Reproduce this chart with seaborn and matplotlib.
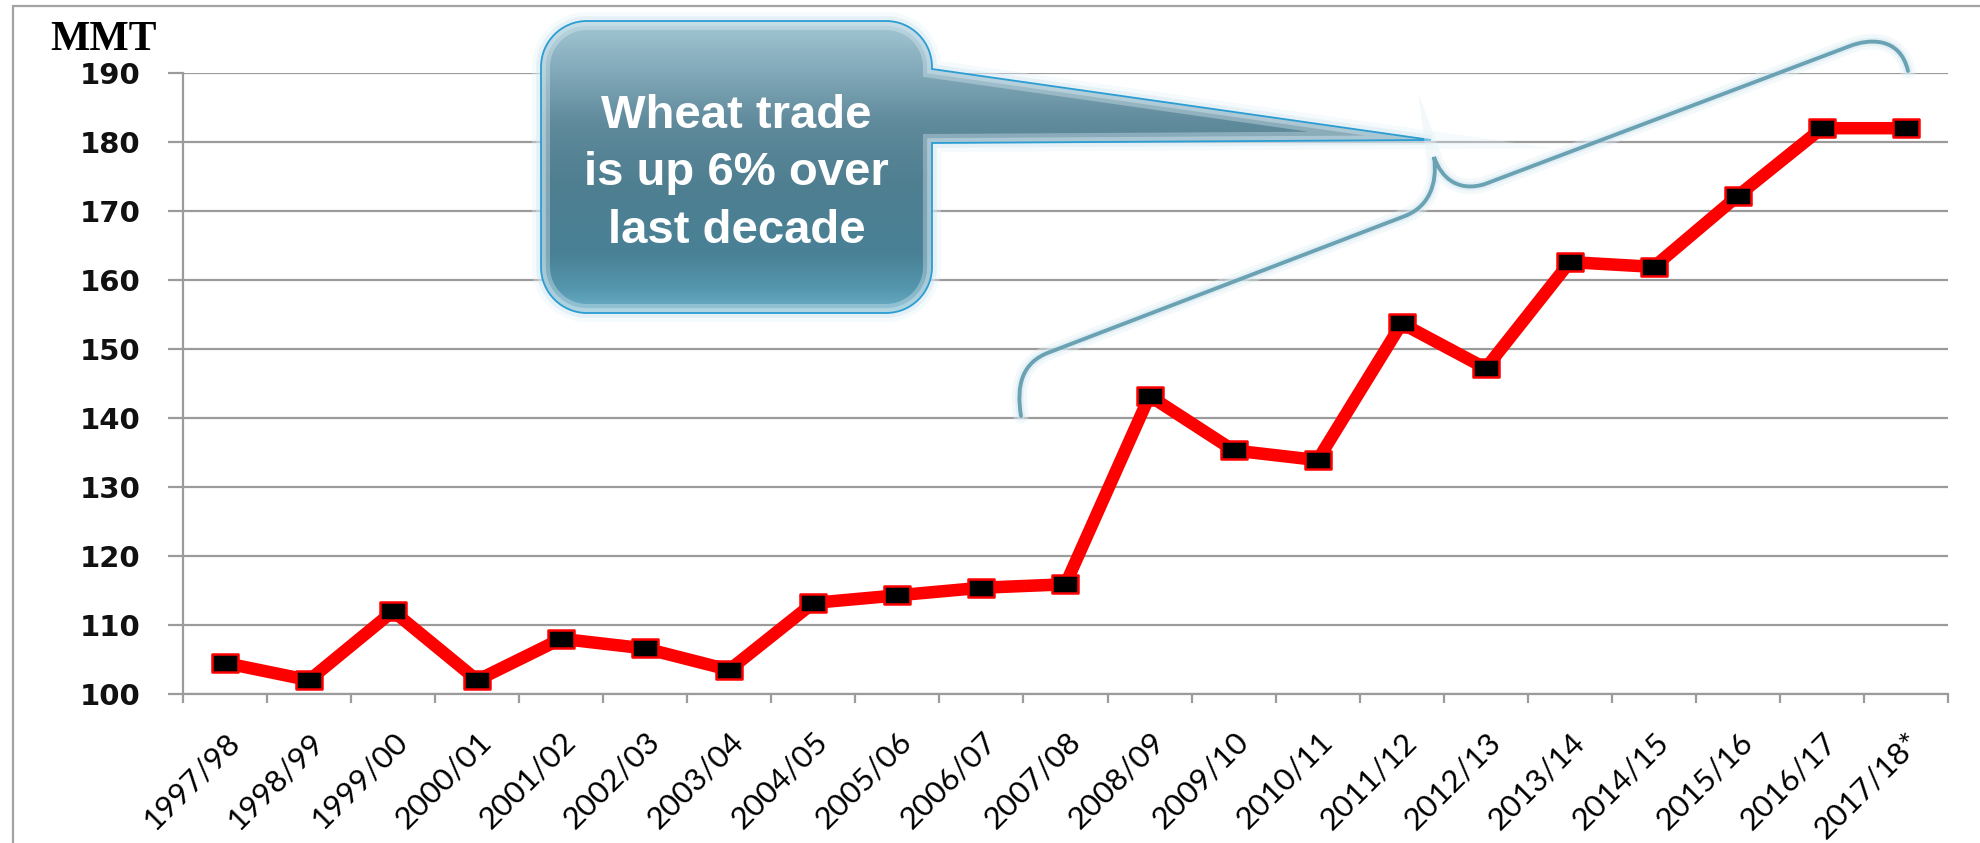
import numpy as np
import matplotlib
matplotlib.use("Agg")
import matplotlib.pyplot as plt
import matplotlib.patheffects as pe
import pandas as pd
import seaborn as sns
from matplotlib.path import Path
from matplotlib.patches import PathPatch
from matplotlib.colors import LinearSegmentedColormap

# ---- data -------------------------------------------------------------
seasons = ["1997/98", "1998/99", "1999/00", "2000/01", "2001/02", "2002/03",
           "2003/04", "2004/05", "2005/06", "2006/07", "2007/08", "2008/09",
           "2009/10", "2010/11", "2011/12", "2012/13", "2013/14", "2014/15",
           "2015/16", "2016/17", "2017/18*"]
trade_mmt = [104.5, 102.0, 112.0, 102.0, 108.0, 106.6, 103.5, 113.2, 114.3,
             115.4, 115.9, 143.2, 135.3, 133.9, 153.7, 147.2, 162.6, 161.9,
             172.2, 182.0, 182.0]
y_ticks = [100, 110, 120, 130, 140, 150, 160, 170, 180, 190]
unit_label = "MMT"
callout_lines = ["Wheat trade", "is up 6% over", "last decade"]

# ---- figure -----------------------------------------------------------
W, H, DPI = 1981, 843, 100
GRID = "#9b9b9b"

sns.set_theme(style="white")
fig = plt.figure(figsize=(W / DPI, H / DPI), dpi=DPI)
fig.patch.set_facecolor("white")

ax = fig.add_axes([183 / W, 1 - 694 / H, (1948 - 183) / W, (694 - 73) / H])

df = pd.DataFrame({"position": np.arange(len(seasons)), "trade": trade_mmt})

# flat black rectangle marker with a red rim
rect_marker = Path([(-1, -0.72), (1, -0.72), (1, 0.72), (-1, 0.72),
                    (-1, -0.72)], closed=True)
sns.lineplot(data=df, x="position", y="trade", ax=ax, sort=False,
             color="#ff0000", linewidth=9, marker=rect_marker,
             markersize=18.5, markerfacecolor="black",
             markeredgecolor="#ff0000", markeredgewidth=1.8, zorder=3)

ax.set_xlim(-0.5, len(seasons) - 0.5)
ax.set_ylim(y_ticks[0], y_ticks[-1])
ax.set_xlabel("")
ax.set_ylabel("")

ax.set_yticks(y_ticks)
ax.set_yticklabels([str(v) for v in y_ticks], fontfamily="DejaVu Sans",
                   fontsize=21, fontweight="bold", color="#111111")

# tick marks sit on category boundaries, labels on category centres
ax.set_xticks(np.arange(-0.5, len(seasons)), labels=[])
ax.set_xticks(np.arange(len(seasons)), labels=seasons, minor=True)
ax.tick_params(axis="x", which="major", bottom=True, length=6.5, width=1.6,
               color=GRID, direction="out")
ax.tick_params(axis="x", which="minor", bottom=True, length=0, pad=24)
ax.tick_params(axis="y", left=True, length=10.8, width=1.6, color=GRID,
               direction="out", pad=20)
for lbl in ax.get_xticklabels(minor=True):
    lbl.set(rotation=45, ha="right", va="top", rotation_mode="anchor",
            fontfamily="Lato", fontsize=22.5, color="black")

ax.grid(axis="y", color=GRID, linewidth=1.6)
ax.grid(axis="x", visible=False)
ax.set_axisbelow(True)
for side in ["top", "right"]:
    ax.spines[side].set_visible(False)
for side in ["left", "bottom"]:
    ax.spines[side].set_color(GRID)
    ax.spines[side].set_linewidth(1.6)

# ---- overlay in pixel space for frame, unit label and callout ---------
ov = fig.add_axes([0, 0, 1, 1], zorder=10)
ov.set_xlim(0, W)
ov.set_ylim(H, 0)
ov.axis("off")

ov.plot([12.7, 12.7, W], [H, 6, 6], color="#a3a3a3", lw=1.6,
        solid_joinstyle="miter", clip_on=False)

ov.text(50, 50, unit_label, fontfamily="Liberation Serif", fontweight="bold",
        fontsize=30, ha="left", va="baseline", color="black")

# callout: rounded box with a wedge-shaped pointer
x0, x1, y0, y1, r = 541, 932, 21, 313, 46
k = 0.5523 * r
tip = (1431, 140)
verts = [
    (x0 + r, y0),
    (x1 - r, y0),
    (x1 - r + k, y0), (x1, y0 + r - k), (x1, y0 + r),
    (x1, 69),
    tip,
    (x1, 143),
    (x1, y1 - r),
    (x1, y1 - r + k), (x1 - r + k, y1), (x1 - r, y1),
    (x0 + r, y1),
    (x0 + r - k, y1), (x0, y1 - r + k), (x0, y1 - r),
    (x0, y0 + r),
    (x0, y0 + r - k), (x0 + r - k, y0), (x0 + r, y0),
    (x0 + r, y0),
]
codes = ([Path.MOVETO, Path.LINETO]
         + [Path.CURVE4] * 3
         + [Path.LINETO] * 4
         + [Path.CURVE4] * 3
         + [Path.LINETO]
         + [Path.CURVE4] * 3
         + [Path.LINETO]
         + [Path.CURVE4] * 3
         + [Path.CLOSEPOLY])
callout = PathPatch(Path(verts, codes), facecolor="none", edgecolor="#2a9dd3",
                    lw=1.3, zorder=3)
callout.set_path_effects([
    pe.Stroke(linewidth=13, foreground="#e4f1f7", alpha=0.35),
    pe.Stroke(linewidth=7, foreground="#d3e8f2", alpha=0.45),
    pe.Normal()])
ov.add_patch(callout)

shade = LinearSegmentedColormap.from_list("callout_shade", [
    (0.00, "#a3c7d4"), (0.15, "#86adbd"), (0.35, "#5f8a9b"),
    (0.55, "#4f7f91"), (0.80, "#498196"), (0.92, "#5597ae"),
    (1.00, "#6aaec6")])
grad = np.linspace(0, 1, 256).reshape(-1, 1)
img = ov.imshow(grad, cmap=shade, extent=(x0, tip[0] + 2, y1, y0),
                aspect="auto", origin="upper", zorder=2,
                interpolation="bilinear")
img.set_clip_path(callout)

for line, base in zip(callout_lines, [128, 185, 243]):
    ov.text((x0 + x1) / 2, base, line, color="white", fontsize=34,
            fontweight="bold", fontfamily="Liberation Sans",
            ha="center", va="baseline", zorder=4)

# curly brace spanning the last decade
brace_v = [
    (1021, 416),
    (1016, 385), (1022, 362), (1050, 352),
    (1405, 216),
    (1428, 207), (1438, 185), (1434, 157),
    (1442, 180), (1460, 192), (1485, 184),
    (1850, 46),
    (1868, 39), (1900, 36), (1908, 71),
]
brace_c = ([Path.MOVETO] + [Path.CURVE4] * 3 + [Path.LINETO]
           + [Path.CURVE4] * 3 + [Path.CURVE4] * 3 + [Path.LINETO]
           + [Path.CURVE4] * 3)
brace = PathPatch(Path(brace_v, brace_c), facecolor="none",
                  edgecolor="#6aa2b4", lw=2.8, capstyle="round", zorder=3)
brace.set_path_effects([
    pe.Stroke(linewidth=11, foreground="#e2f0f6", alpha=0.4),
    pe.Stroke(linewidth=6, foreground="#d3e8f1", alpha=0.5),
    pe.Normal()])
ov.add_patch(brace)

fig.savefig("out.png", dpi=DPI, facecolor="white")
